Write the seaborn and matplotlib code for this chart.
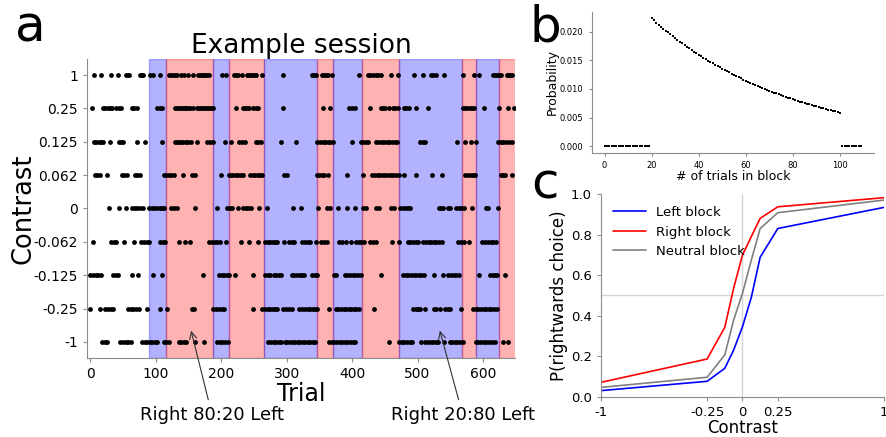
import numpy as np
import pandas as pd
import matplotlib
matplotlib.use("Agg")
import matplotlib.pyplot as plt
import seaborn as sns

sns.set_style("ticks")
plt.rcParams["font.family"] = ["DejaVu Sans"]
plt.rcParams["text.color"] = "black"
plt.rcParams["axes.labelcolor"] = "black"
plt.rcParams["axes.edgecolor"] = "#8c8c8c"
plt.rcParams["xtick.color"] = "#8c8c8c"
plt.rcParams["ytick.color"] = "#8c8c8c"
plt.rcParams["xtick.labelcolor"] = "black"
plt.rcParams["ytick.labelcolor"] = "black"

# ---------------- Panel a: example session ----------------
contrast_labels = ["1", "0.25", "0.125", "0.062", "0", "-0.062", "-0.125", "-0.25", "-1"]

trials_c_p100 = [5, 16, 31, 42, 54, 57, 59, 76, 79, 81, 92, 96, 107, 120, 123, 126, 129, 132,
                 138, 143, 150, 157, 164, 167, 170, 173, 176, 179, 182, 202, 208, 219, 222, 225,
                 232, 239, 242, 245, 248, 251, 253, 263, 295, 339, 342, 345, 354, 357, 360, 363,
                 370, 410, 424, 428, 432, 436, 440, 444, 459, 470, 494, 509, 520, 524, 528, 540,
                 570, 586, 594, 616, 619, 622, 625, 628, 636, 639, 642, 645]
trials_c_p25 = [3, 19, 23, 27, 30, 33, 40, 44, 47, 63, 67, 71, 102, 106, 110, 129, 132, 135, 138,
                141, 144, 147, 150, 153, 157, 163, 166, 169, 172, 175, 178, 181, 184, 187, 222,
                233, 236, 239, 243, 249, 253, 257, 295, 356, 367, 396, 400, 404, 427, 444, 448,
                451, 457, 462, 466, 470, 479, 483, 487, 498, 516, 570, 573, 576, 580, 583, 586,
                602, 625, 638, 647]
trials_c_p125 = [5, 9, 13, 17, 20, 30, 44, 47, 50, 71, 84, 109, 130, 133, 136, 139, 142, 146, 150,
                 154, 163, 179, 183, 187, 206, 215, 228, 232, 236, 253, 257, 261, 292, 315, 347,
                 351, 355, 359, 363, 367, 371, 400, 413, 417, 421, 425, 437, 441, 445, 449, 453,
                 457, 461, 465, 469, 504, 508, 511, 560, 572, 581, 589, 623, 627, 631, 635, 640,
                 644]
trials_c_p062 = [7, 11, 15, 26, 48, 52, 56, 68, 72, 76, 112, 116, 120, 124, 128, 141, 156, 160,
                 200, 212, 215, 218, 222, 226, 230, 234, 244, 248, 252, 256, 260, 263, 296, 300,
                 347, 350, 354, 357, 363, 392, 417, 431, 435, 439, 443, 447, 451, 455, 459, 463,
                 467, 471, 480, 497, 522, 537, 573, 577, 581, 585, 588, 627, 631, 634, 644]
trials_c_0 = [28, 44, 55, 64, 68, 72, 76, 80, 90, 94, 98, 102, 106, 110, 113, 124, 128, 132, 160,
              193, 209, 213, 217, 226, 234, 238, 241, 245, 258, 270, 310, 322, 348, 362, 366, 379,
              393, 405, 417, 421, 437, 441, 460, 464, 474, 478, 482, 486, 489, 533, 536, 539, 547,
              550, 559, 563, 567, 571, 584, 604, 608, 623]
trials_c_m062 = [4, 32, 36, 40, 51, 67, 78, 82, 86, 90, 107, 111, 114, 135, 145, 153, 182, 186,
                 190, 194, 198, 208, 230, 242, 257, 267, 271, 275, 279, 283, 286, 296, 304, 308,
                 311, 324, 328, 332, 336, 345, 353, 357, 361, 380, 385, 390, 398, 406, 410, 414,
                 418, 428, 432, 436, 461, 472, 486, 489, 493, 497, 501, 509, 513, 517, 521, 525,
                 529, 533, 537, 562, 566, 571, 579, 598, 603, 607, 612, 616, 620]
trials_c_m125 = [0, 4, 8, 12, 17, 35, 39, 43, 63, 73, 96, 110, 172, 197, 201, 205, 209, 212, 221,
                 249, 267, 271, 275, 280, 284, 288, 292, 308, 312, 316, 320, 324, 326, 339, 343,
                 347, 372, 376, 389, 393, 397, 401, 405, 409, 413, 444, 478, 482, 486, 490, 494,
                 498, 502, 506, 510, 525, 539, 547, 551, 555, 559, 563, 594, 611, 615, 619, 622,
                 633]
trials_c_m25 = [0, 15, 23, 27, 31, 35, 58, 62, 66, 70, 74, 86, 106, 117, 156, 159, 188, 192, 196,
                201, 205, 248, 263, 267, 271, 275, 279, 283, 286, 295, 299, 303, 308, 319, 324,
                328, 332, 336, 340, 344, 347, 364, 375, 379, 383, 387, 391, 395, 399, 403, 406,
                410, 433, 493, 497, 500, 504, 512, 525, 529, 534, 542, 546, 549, 566, 585, 589,
                593, 597, 601, 605, 609, 613, 617, 621]
trials_c_m100 = [18, 22, 25, 46, 50, 54, 58, 62, 79, 83, 87, 91, 95, 99, 102, 112, 116, 120, 135,
                 139, 143, 147, 160, 174, 194, 198, 202, 206, 210, 272, 276, 280, 284, 288, 291,
                 297, 301, 305, 309, 313, 317, 321, 325, 328, 332, 336, 340, 344, 365, 369, 373,
                 377, 381, 385, 389, 393, 397, 401, 405, 456, 472, 476, 480, 484, 488, 492, 505,
                 512, 516, 520, 524, 528, 532, 540, 549, 553, 557, 561, 565, 569, 589, 593, 597,
                 601, 605, 609, 614, 618, 630, 639]

trials_by_contrast = [trials_c_p100, trials_c_p25, trials_c_p125, trials_c_p062, trials_c_0,
                      trials_c_m062, trials_c_m125, trials_c_m25, trials_c_m100]

# block structure: start trial, end trial, block type
block_starts = [90, 115, 188, 212, 266, 347, 371, 415, 472, 568, 590, 624]
block_ends = [115, 188, 212, 266, 347, 371, 415, 472, 568, 590, 624, 650]
block_types = ["L", "R", "L", "R", "L", "R", "L", "R", "L", "R", "L", "R"]

# ---------------- Panel b: block length distribution ----------------
block_len = list(range(0, 110))
block_prob = ([0.0] * 20 +
              [0.02230, 0.02193, 0.02157, 0.02121, 0.02086, 0.02052, 0.02018, 0.01984, 0.01952,
               0.01919, 0.01888, 0.01856, 0.01826, 0.01796, 0.01766, 0.01737, 0.01708, 0.01680,
               0.01652, 0.01625, 0.01598, 0.01571, 0.01545, 0.01520, 0.01495, 0.01470, 0.01446,
               0.01422, 0.01398, 0.01375, 0.01353, 0.01330, 0.01308, 0.01287, 0.01265, 0.01244,
               0.01224, 0.01204, 0.01184, 0.01164, 0.01145, 0.01126, 0.01107, 0.01089, 0.01071,
               0.01053, 0.01036, 0.01019, 0.01002, 0.00985, 0.00969, 0.00953, 0.00937, 0.00922,
               0.00907, 0.00892, 0.00877, 0.00862, 0.00848, 0.00834, 0.00820, 0.00807, 0.00793,
               0.00780, 0.00768, 0.00755, 0.00742, 0.00730, 0.00718, 0.00706, 0.00694, 0.00683,
               0.00672, 0.00661, 0.00650, 0.00639, 0.00628, 0.00618, 0.00608, 0.00598, 0.00588] +
              [0.0] * 9)

# ---------------- Panel c: psychometric curves ----------------
psy_contrasts = [-1, -0.25, -0.125, -0.0625, 0, 0.0625, 0.125, 0.25, 1]
p_left_block = [0.030, 0.076, 0.140, 0.230, 0.345, 0.490, 0.688, 0.830, 0.934]
p_right_block = [0.071, 0.186, 0.342, 0.535, 0.699, 0.790, 0.880, 0.937, 0.982]
p_neutral_block = [0.046, 0.096, 0.206, 0.378, 0.510, 0.674, 0.830, 0.908, 0.970]
psy_tick_vals = [-1, -0.25, 0, 0.25, 1]
psy_tick_labels = ["-1", "-0.25", "0", "0.25", "1"]

fig = plt.figure(figsize=(8.86, 4.37), dpi=100)

# ---- a ----
ax_a = fig.add_axes([0.0982, 0.1808, 0.4831, 0.6842])
rows = []
for idx, trials in enumerate(trials_by_contrast):
    for t in trials:
        rows.append({"trial": t, "row": idx})
df_a = pd.DataFrame(rows)

span_colors = {"L": "blue", "R": "red"}
for s, e, k in zip(block_starts, block_ends, block_types):
    ax_a.axvspan(s, e, color=span_colors[k], alpha=0.3, lw=1, zorder=0)

sns.scatterplot(data=df_a, x="trial", y="row", ax=ax_a, color="black", s=12,
                linewidth=0, zorder=3)
ax_a.set_xlim(-5, 649)
ax_a.set_ylim(8.48, -0.48)
ax_a.set_yticks(range(len(contrast_labels)))
ax_a.set_yticklabels(contrast_labels)
ax_a.set_xticks([0, 100, 200, 300, 400, 500, 600])
ax_a.tick_params(labelsize=10, length=3)
ax_a.set_xlabel("Trial", fontsize=17, labelpad=1)
ax_a.set_ylabel("Contrast", fontsize=18.5, labelpad=-2)
ax_a.set_title("Example session", fontsize=19, pad=4)
sns.despine(ax=ax_a)

arrow_kw = dict(arrowstyle="->", color="#333333", lw=0.8)
ax_a.annotate("Right 80:20 Left", xy=(153, 7.58), xytext=(186, 10.18),
              ha="center", va="center", fontsize=13, annotation_clip=False,
              arrowprops=arrow_kw)
ax_a.annotate("Right 20:80 Left", xy=(533, 7.58), xytext=(569, 10.18),
              ha="center", va="center", fontsize=13, annotation_clip=False,
              arrowprops=arrow_kw)

# ---- b ----
ax_b = fig.add_axes([0.6678, 0.6506, 0.3186, 0.322])
df_b = pd.DataFrame({"n": block_len, "p": block_prob})
sns.scatterplot(data=df_b, x="n", y="p", ax=ax_b, color="black", s=3, linewidth=0,
                marker="s")
ax_b.margins(0.05)
ax_b.set_xticks([0, 20, 40, 60, 80, 100])
ax_b.set_yticks([0.0, 0.005, 0.010, 0.015, 0.020])
ax_b.set_yticklabels(["0.000", "0.005", "0.010", "0.015", "0.020"])
ax_b.tick_params(labelsize=6, length=2.5)
ax_b.set_xlabel("# of trials in block", fontsize=9, labelpad=0)
ax_b.set_ylabel("Probability", fontsize=9, labelpad=1)
sns.despine(ax=ax_b)

# ---- c ----
ax_c = fig.add_axes([0.6783, 0.0922, 0.3194, 0.4638])
ax_c.axvline(0, color="#d6d6d6", lw=1, zorder=0)
ax_c.axhline(0.5, color="#d6d6d6", lw=1, zorder=0)
df_c = pd.DataFrame({
    "contrast": psy_contrasts * 3,
    "p": p_left_block + p_right_block + p_neutral_block,
    "block": ["Left block"] * 9 + ["Right block"] * 9 + ["Neutral block"] * 9,
})
sns.lineplot(data=df_c, x="contrast", y="p", hue="block", ax=ax_c,
             palette={"Left block": "blue", "Right block": "red", "Neutral block": "gray"},
             lw=1.2)
ax_c.set_xlim(-1, 1)
ax_c.set_ylim(0, 1)
ax_c.set_xticks(psy_tick_vals)
ax_c.set_xticklabels(psy_tick_labels)
ax_c.set_yticks([0, 0.2, 0.4, 0.6, 0.8, 1.0])
ax_c.tick_params(labelsize=9.5, length=3)
ax_c.set_xlabel("Contrast", fontsize=12, labelpad=0)
ax_c.set_ylabel("P(rightwards choice)", fontsize=12, labelpad=2)
leg = ax_c.legend(loc="upper left", frameon=False, fontsize=9.5, handlelength=2.5,
                  bbox_to_anchor=(0.0, 1.0))
sns.despine(ax=ax_c)

# panel letters
fig.text(0.017, 0.905, "a", fontsize=36)
fig.text(0.598, 0.905, "b", fontsize=36)
fig.text(0.600, 0.545, "c", fontsize=36)

fig.savefig("out.png", dpi=100)
